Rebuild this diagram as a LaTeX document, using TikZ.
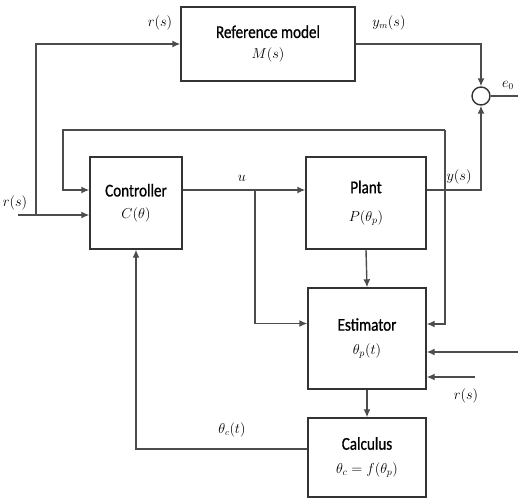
\documentclass[tikz,border=0pt]{standalone}
\usepackage{amsmath}
\usepackage{amssymb}
\usepackage{fontspec}
\newfontfamily\blkfont[FakeBold=0.8,FakeStretch=0.84]{Carlito}
\newcommand{\ttlfont}{\blkfont\fontsize{18}{20}\selectfont}
\usetikzlibrary{arrows.meta}

\tikzset{
  blk/.style={draw=black!80, line width=1.4pt, align=center, inner sep=0pt,
    font=\fontsize{14.5}{18}\selectfont},
  sig/.style={draw=black!70, line width=1.4pt},
  >={Latex[length=8pt,width=7pt]},
  lbl/.style={font=\fontsize{13.5}{15}\selectfont, inner sep=1pt}
}

\begin{document}
\begin{tikzpicture}[x=1pt,y=-1pt]
                \useasboundingbox (0,0) rectangle (518,500);
                % blocks
                \node[blk, minimum width=174pt, minimum height=74pt] (refm) at (268,44)
                    {{\ttlfont Reference model}\\[3pt]$M(s)$};
                \node[blk, minimum width=92pt, minimum height=92pt] (ctrl) at (136,203)
                    {{\ttlfont Controller}\\[4pt]$C(\theta)$};
                \node[blk, minimum width=120pt, minimum height=92pt] (plant) at (366,203)
                    {{\ttlfont Plant}\\[10pt]$P(\theta_p)$};
                \node[blk, minimum width=118pt, minimum height=101pt] (est) at (367,338.5)
                    {{\ttlfont Estimator}\\[6pt]$\theta_p(t)$};
                \node[blk, minimum width=118pt, minimum height=79pt] (calc) at (367,457.5)
                    {{\ttlfont Calculus}\\[6pt]$\theta_c=f(\theta_p)$};
                \node[circle, draw=black!80, line width=1.4pt, minimum size=18pt, inner sep=0pt] (sum) at (481,96) {};
                % free ends and corners
                \coordinate (rin) at (18,215);
                \coordinate (rsplit) at (36,215);
                \coordinate (ysplit) at (445,130);
                \coordinate (usplit) at (255,190);
                \coordinate (eout) at (518,96);
                \coordinate (ein) at (518,352);
                \coordinate (rest) at (475,377);
                % reference input
                \draw[sig,->] (rin) -- ([yshift=-12pt]ctrl.west);
                \draw[sig,->] (rsplit) |- (refm.west);
                \node[lbl] (rtop) at (160,23) {$r(s)$};
                \node[lbl] (rleft) at (15,203) {$r(s)$};
                % model output and error
                \draw[sig,->] (refm.east) -| (sum.north);
                \node[lbl] (ym) at (389,23) {$y_m(s)$};
                \draw[sig] (sum.east) -- (eout);
                \node[lbl] (e0) at (508,85) {$e_0$};
                % control signal
                \draw[sig,->] ([yshift=13pt]ctrl.east) -- ([yshift=13pt]plant.west);
                \node[lbl] (ulbl) at (242,178) {$u$};
                \draw[sig,->] (usplit) |- ([yshift=15pt]est.west);
                % plant output
                \draw[sig,->] ([yshift=13pt]plant.east) -| (sum.south);
                \node[lbl] (ylbl) at (459,177) {$y(s)$};
                \draw[sig,->] (ysplit) -- (63,130) -- (63,190) -- ([yshift=13pt]ctrl.west);
                \draw[sig,->] (ysplit) |- ([yshift=14.5pt]est.east);
                % estimator and calculus
                \draw[sig,->] (plant.south) -- (est.north);
                \draw[sig,->] (ein) -- ([yshift=-13.5pt]est.east);
                \draw[sig,->] (rest) -- ([yshift=-38.5pt]est.east);
                \node[lbl] (rlow) at (466,396) {$r(s)$};
                \draw[sig,->] (est.south) -- (calc.north);
                \draw[sig,->] ([yshift=8.5pt]calc.west) -| (ctrl.south);
                \node[lbl] (thc) at (232,430) {$\theta_c(t)$};
            \end{tikzpicture}
\end{document}
